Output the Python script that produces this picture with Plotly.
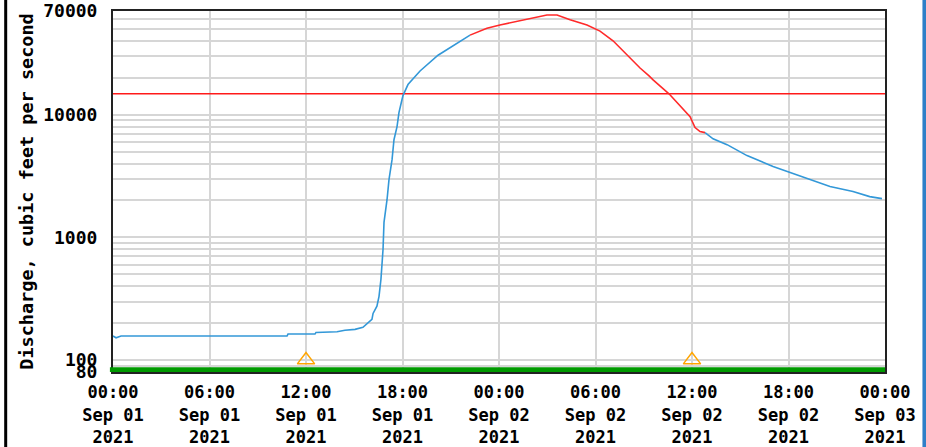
import pandas as pd
import plotly.graph_objects as go

# ---- data (hours since 2021-09-01 00:00, discharge cfs) ----
start = pd.Timestamp("2021-09-01 00:00")

blue1_hours = [0.0, 0.19, 0.5, 10.82, 10.88, 12.56, 12.62, 13.87, 13.93, 14.42, 15.05, 15.54,
               15.85, 16.10, 16.17, 16.41, 16.54, 16.66, 16.79, 16.85, 17.04, 17.16, 17.35,
               17.47, 17.66, 17.78, 17.97, 18.03, 18.34, 19.09, 20.21, 21.14, 22.20]
blue1_cfs = [157, 152, 157, 157, 163, 163, 168, 168, 170, 175, 178, 185,
             200, 215, 240, 275, 331, 456, 800, 1325, 2037, 2960, 4300,
             6250, 8000, 10400, 13300, 14300, 17600, 22700, 30500, 36200, 44500]

red_hours = [22.20, 23.25, 24.06, 25.31, 26.36, 26.98, 27.61, 28.42, 29.47, 30.28, 31.09,
             31.96, 32.77, 33.33, 33.58, 34.57, 35.44, 35.88, 36.19, 36.50, 36.81]
red_cfs = [44500, 50600, 53800, 58000, 62600, 65000, 65000, 59300, 53800, 48000, 40000,
           30500, 24000, 20700, 19200, 14800, 11000, 9640, 7860, 7280, 7140]

blue2_hours = [36.81, 37.31, 38.18, 39.42, 41.04, 42.09, 43.34, 44.58, 46.01, 47.05, 47.81]
blue2_cfs = [7140, 6360, 5700, 4640, 3780, 3380, 2960, 2600, 2370, 2150, 2070]

threshold_cfs = 14800
marker_hours = [12, 36]
marker_cfs = [100, 100]

tick_hours = [0, 6, 12, 18, 24, 30, 36, 42, 48]
tick_text = ["00:00<br>Sep 01<br>2021", "06:00<br>Sep 01<br>2021", "12:00<br>Sep 01<br>2021",
             "18:00<br>Sep 01<br>2021", "00:00<br>Sep 02<br>2021", "06:00<br>Sep 02<br>2021",
             "12:00<br>Sep 02<br>2021", "18:00<br>Sep 02<br>2021", "00:00<br>Sep 03<br>2021"]

y_grid_vals = [80, 90, 100, 200, 300, 400, 500, 600, 700, 800, 900,
               1000, 2000, 3000, 4000, 5000, 6000, 7000, 8000, 9000,
               10000, 20000, 30000, 40000, 50000, 60000, 70000]
y_labels = {80: "80", 100: "100", 1000: "1000", 10000: "10000", 70000: "70000"}


def to_time(hours):
    return [start + pd.Timedelta(hours=h) for h in hours]


FONT = "DejaVu Sans Mono"
BLUE = "#3398d8"
RED = "#ff2a2a"

fig = go.Figure()

fig.add_trace(go.Scatter(x=to_time([0, 48]), y=[threshold_cfs, threshold_cfs], mode="lines",
                         line=dict(color="#ff1a1a", width=1.6), hoverinfo="skip"))
fig.add_trace(go.Scatter(x=to_time(blue1_hours), y=blue1_cfs, mode="lines",
                         line=dict(color=BLUE, width=1.6)))
fig.add_trace(go.Scatter(x=to_time(red_hours), y=red_cfs, mode="lines",
                         line=dict(color=RED, width=1.6)))
fig.add_trace(go.Scatter(x=to_time(blue2_hours), y=blue2_cfs, mode="lines",
                         line=dict(color=BLUE, width=1.6)))
fig.add_trace(go.Scatter(x=to_time(marker_hours), y=marker_cfs, mode="markers",
                         marker=dict(symbol="triangle-up-open", size=15, color="#ffa500",
                                     line=dict(width=1.5, color="#ffa500")),
                         cliponaxis=False))

fig.update_layout(
    width=926, height=447,
    margin=dict(l=113, r=41, t=11, b=75),
    paper_bgcolor="white", plot_bgcolor="white",
    showlegend=False,
    font=dict(family=FONT, size=18, color="black"),
    xaxis=dict(
        range=to_time([0, 48]), automargin=False,
        tickvals=to_time(tick_hours), ticktext=tick_text,
        showgrid=True, gridcolor="#d6d6d6", gridwidth=1.5,
        tickfont=dict(family=FONT, size=17, color="black", weight="bold"),
        showline=True, linecolor="#222", linewidth=2, mirror=True,
        ticks="", zeroline=False, ticklabelstandoff=4,
    ),
    yaxis=dict(
        type="log", range=[1.903, 4.845], automargin=False,
        tickvals=y_grid_vals,
        ticktext=[y_labels.get(v, "") for v in y_grid_vals],
        showgrid=True, gridcolor="#d6d6d6", gridwidth=1.5,
        tickfont=dict(family=FONT, size=18, color="black", weight="bold"),
        showline=True, linecolor="#222", linewidth=2, mirror=True,
        ticks="", zeroline=False, ticklabelstandoff=10,
        title=dict(text="Discharge, cubic feet per second",
                   font=dict(family=FONT, size=18.5, color="black", weight="bold"),
                   standoff=5),
    ),
    shapes=[
        dict(type="rect", xref="paper", yref="paper", x0=-0.004, x1=1.0, y0=0.0, y1=0.013,
             fillcolor="#009a00", line=dict(width=0), layer="above"),
        dict(type="line", xref="paper", yref="paper", x0=-0.139, x1=-0.139, y0=-0.21, y1=1.04,
             line=dict(color="black", width=3)),
        dict(type="rect", xref="paper", yref="paper", x0=1.0485, x1=1.06, y0=-0.21, y1=1.04,
             fillcolor="#2f7fc8", line=dict(width=0)),
    ],
)

fig.write_html("out.html", config={"displayModeBar": False},
               post_script="document.body.style.margin='0px';document.body.style.overflow='hidden';")
